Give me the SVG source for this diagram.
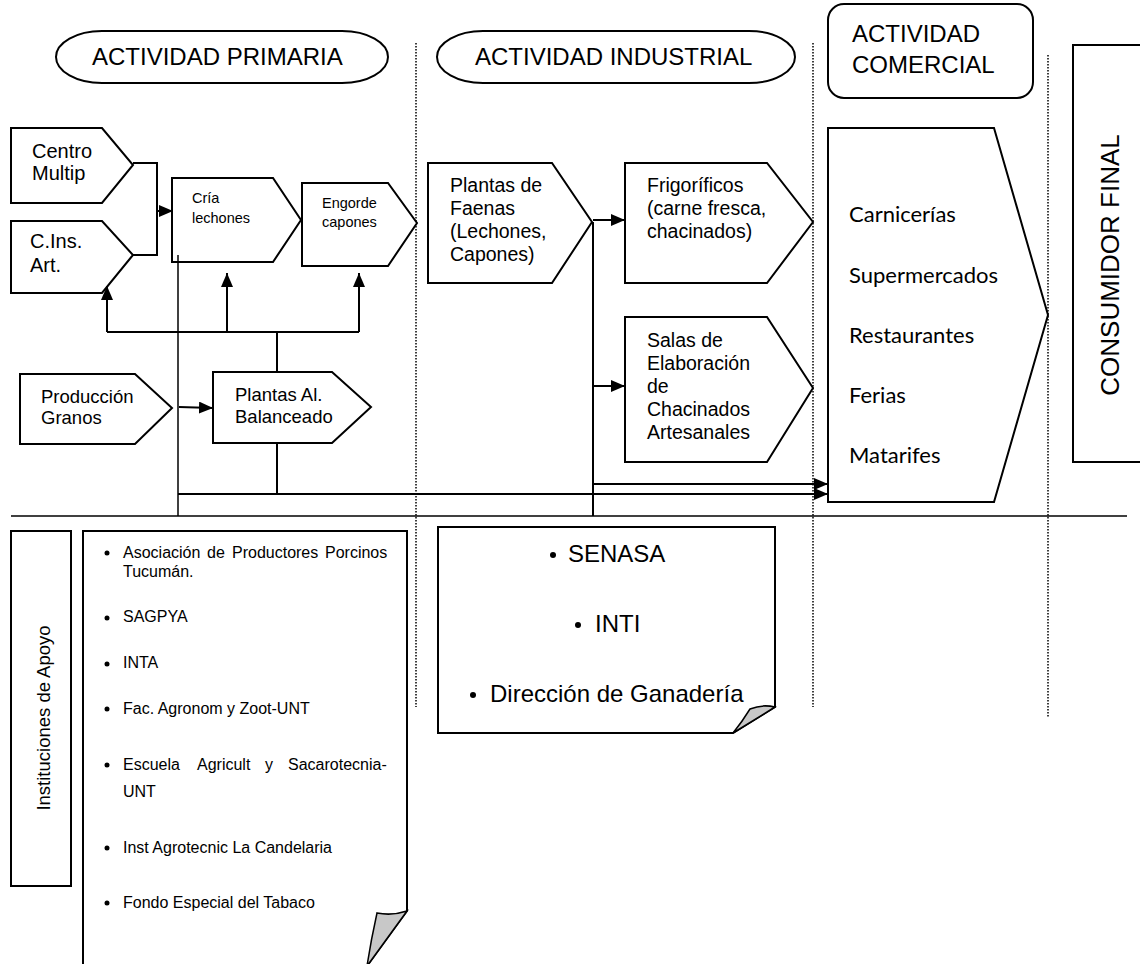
<svg xmlns="http://www.w3.org/2000/svg" width="1140" height="964" viewBox="0 0 1140 964">
<defs>
<marker id="ah" viewBox="0 0 14 12" refX="14" refY="6" markerWidth="14" markerHeight="12" markerUnits="userSpaceOnUse" orient="auto"><path d="M0,0 L14,6 L0,12 Z" fill="#000"/></marker>
<style>
.sh{fill:#fff;stroke:#000;stroke-width:2}
.t{font-family:'Liberation Sans',Arial,sans-serif;fill:#000}
.c{font-family:Lato,'Open Sans',sans-serif;fill:#000;font-size:22px}
.ln{fill:none;stroke:#000;stroke-width:2}
.thin{fill:none;stroke:#000;stroke-width:1.5}
.dot{fill:none;stroke:#000;stroke-width:1.5;stroke-dasharray:1.5 1.5}
.fold{fill:#c8c8c8;stroke:#000;stroke-width:1.5}
</style>
</defs>
<rect width="1140" height="964" fill="#fff"/>

<g id="dividers">
<line class="dot" x1="416" y1="43" x2="416" y2="707"/>
<line class="dot" x1="813" y1="43" x2="813" y2="707"/>
<line class="dot" x1="1048" y1="55" x2="1048" y2="718"/>
<line class="thin" x1="11" y1="516" x2="1127" y2="516"/>
</g>

<g id="hdr-primaria">
<rect class="sh" x="56" y="31" width="332" height="52" rx="46" ry="26" stroke-width="1.5"/>
<text class="t" x="92" y="65" font-size="24">ACTIVIDAD PRIMARIA</text>
</g>
<g id="hdr-industrial">
<rect class="sh" x="437" y="31" width="358" height="52" rx="46" ry="26" stroke-width="1.5"/>
<text class="t" x="475" y="65" font-size="24">ACTIVIDAD INDUSTRIAL</text>
</g>
<g id="hdr-comercial">
<rect class="sh" x="828" y="4" width="205" height="94" rx="16" ry="16"/>
<text class="t" x="852" y="42" font-size="24">ACTIVIDAD</text>
<text class="t" x="852" y="73" font-size="24">COMERCIAL</text>
</g>

<g id="centro-multip">
<path class="sh" d="M11,128 H102 L133,165 L102,203 H11 Z"/>
<text class="t" x="32" y="158" font-size="20">Centro</text>
<text class="t" x="32" y="180" font-size="20">Multip</text>
</g>
<g id="c-ins-art">
<path class="sh" d="M11,221 H102 L133,255 L102,293 H11 Z"/>
<text class="t" x="30" y="248" font-size="20">C.Ins.</text>
<text class="t" x="30" y="272" font-size="20">Art.</text>
</g>
<g id="cria-lechones">
<path class="sh" d="M172,178 H273 L301,220 L273,262 H172 Z"/>
<text class="t" x="192" y="203" font-size="14.5">Cría</text>
<text class="t" x="192" y="223" font-size="14.5">lechones</text>
</g>
<g id="engorde-capones">
<path class="sh" d="M302,183 H388 L417,223 L388,266 H302 Z"/>
<text class="t" x="322" y="208" font-size="14.5">Engorde</text>
<text class="t" x="322" y="227" font-size="14.5">capones</text>
</g>
<g id="produccion-granos">
<path class="sh" d="M20,374 H135 L172,408 L135,444 H20 Z"/>
<text class="t" x="41" y="403" font-size="18.5">Producción</text>
<text class="t" x="41" y="424" font-size="18.5">Granos</text>
</g>
<g id="plantas-balanceado">
<path class="sh" d="M213,372 H332 L371,407 L332,443 H213 Z"/>
<text class="t" x="235" y="401" font-size="18.5">Plantas Al.</text>
<text class="t" x="235" y="423" font-size="18.5">Balanceado</text>
</g>

<g id="plantas-faenas">
<path class="sh" d="M428,163 H552 L592,222 L552,283 H428 Z"/>
<text class="t" x="450" y="192" font-size="19.5">Plantas de</text>
<text class="t" x="450" y="215" font-size="19.5">Faenas</text>
<text class="t" x="450" y="238" font-size="19.5">(Lechones,</text>
<text class="t" x="450" y="261" font-size="19.5">Capones)</text>
</g>
<g id="frigorificos">
<path class="sh" d="M625,163 H767 L813,222 L767,283 H625 Z"/>
<text class="t" x="647" y="192" font-size="19.5">Frigoríficos</text>
<text class="t" x="647" y="215" font-size="19.5">(carne fresca,</text>
<text class="t" x="647" y="238" font-size="19.5">chacinados)</text>
</g>
<g id="salas">
<path class="sh" d="M625,317 H767 L813,388 L767,462 H625 Z"/>
<text class="t" x="647" y="347" font-size="19.5">Salas de</text>
<text class="t" x="647" y="370" font-size="19.5">Elaboración</text>
<text class="t" x="647" y="393" font-size="19.5">de</text>
<text class="t" x="647" y="416" font-size="19.5">Chacinados</text>
<text class="t" x="647" y="439" font-size="19.5">Artesanales</text>
</g>

<g id="comercial">
<path class="sh" d="M828,128 H994 L1048,315 L994,502 H828 Z"/>
<text class="c" x="849" y="222">Carnicerías</text>
<text class="c" x="849" y="283">Supermercados</text>
<text class="c" x="849" y="343">Restaurantes</text>
<text class="c" x="849" y="403">Ferias</text>
<text class="c" x="849" y="463">Matarifes</text>
</g>

<g id="consumidor-final">
<rect class="sh" x="1073" y="45" width="80" height="417"/>
<text class="t" font-size="26" text-anchor="middle" transform="translate(1119,265) rotate(-90)">CONSUMIDOR FINAL</text>
</g>

<g id="instituciones">
<rect class="sh" x="11" y="531" width="60" height="355"/>
<text class="t" font-size="18.5" text-anchor="middle" transform="translate(50,718) rotate(-90)">Instituciones de Apoyo</text>
</g>

<g id="lista-primaria">
<path class="sh" d="M83,531 H407 V911 L367,966 H83 Z"/>
<path class="fold" d="M407,911 Q392,916 377,913 Q371,940 367,966 Z"/>
<g fill="#000">
<circle cx="107" cy="553" r="2.5"/>
<circle cx="107" cy="618" r="2.5"/>
<circle cx="107" cy="664" r="2.5"/>
<circle cx="107" cy="709" r="2.5"/>
<circle cx="107" cy="765" r="2.5"/>
<circle cx="107" cy="848" r="2.5"/>
<circle cx="107" cy="903" r="2.5"/>
</g>
<text class="t" font-size="16" y="558"><tspan x="123">Asociación</tspan><tspan x="207">de</tspan><tspan x="232">Productores</tspan><tspan x="325">Porcinos</tspan></text>
<text class="t" font-size="16" x="123" y="577">Tucumán.</text>
<text class="t" font-size="16" x="123" y="622">SAGPYA</text>
<text class="t" font-size="16" x="123" y="668">INTA</text>
<text class="t" font-size="16" x="123" y="714">Fac. Agronom y Zoot-UNT</text>
<text class="t" font-size="16" y="770"><tspan x="123">Escuela</tspan><tspan x="197">Agricult</tspan><tspan x="265">y</tspan><tspan x="288">Sacarotecnia-</tspan></text>
<text class="t" font-size="16" x="123" y="797">UNT</text>
<text class="t" font-size="16" x="123" y="853">Inst Agrotecnic La Candelaria</text>
<text class="t" font-size="16" x="123" y="908">Fondo Especial del Tabaco</text>
</g>

<g id="lista-industrial">
<path class="sh" d="M438,527 H775 V707 L733,733 H438 Z"/>
<path class="fold" d="M775,707 Q762,704 750,709 Q742,722 733,733 Z"/>
<g fill="#000">
<circle cx="553" cy="555" r="3"/>
<circle cx="578" cy="625" r="3"/>
<circle cx="473" cy="695" r="3"/>
</g>
<text class="t" font-size="24" x="568" y="562">SENASA</text>
<text class="t" font-size="24" x="595" y="632">INTI</text>
<text class="t" font-size="24" x="490" y="702">Dirección de Ganadería</text>
</g>

<g id="connectors">
<path class="ln" d="M133,163 H157 V255 H133"/>
<path class="ln" d="M157,211 H173" marker-end="url(#ah)"/>
<path class="ln" d="M107,332 H359"/>
<path class="ln" d="M107,332 V286" marker-end="url(#ah)"/>
<path class="ln" d="M227,332 V273" marker-end="url(#ah)"/>
<path class="ln" d="M359,332 V273" marker-end="url(#ah)"/>
<path class="ln" d="M277,332 V372"/>
<path class="ln" d="M277,443 V494"/>
<path class="thin" d="M178,255 V516"/>
<path class="ln" d="M179,407 L213,408" marker-end="url(#ah)"/>
<path class="ln" d="M178,494 H828" marker-end="url(#ah)"/>
<path class="ln" d="M593,222 V516"/>
<path class="ln" d="M593,220 H625" marker-end="url(#ah)"/>
<path class="ln" d="M593,386 H625" marker-end="url(#ah)"/>
<path class="ln" d="M593,484 H828" marker-end="url(#ah)"/>
</g>
</svg>
